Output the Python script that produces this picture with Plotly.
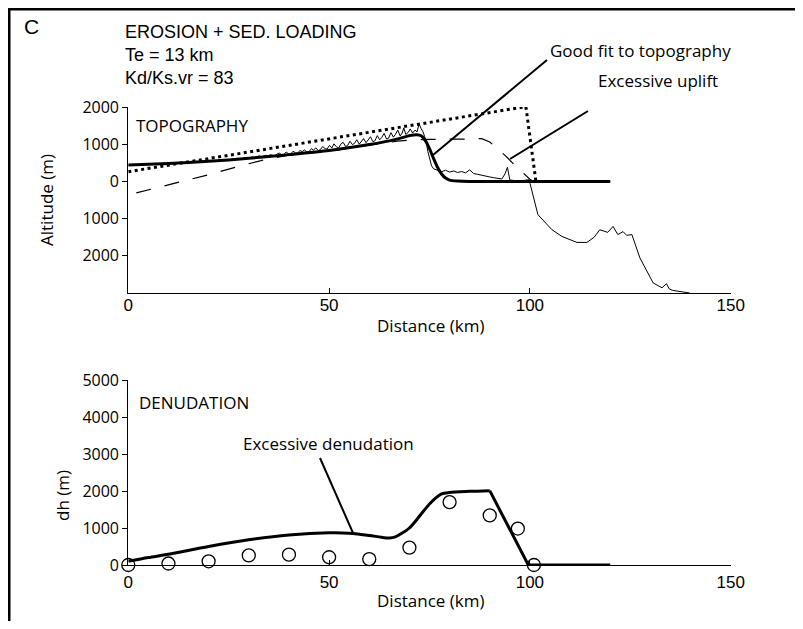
import plotly.graph_objects as go

# Page is shown with the browser's 8px body margin, so figure = window - margins
W, H = 795, 613
OFF = 8  # body margin (page px)

# ---------------- data ----------------
# Top panel: topography (km, m)
model_fit_x = [0, 10, 20, 30, 40, 50, 60, 65, 68, 70, 71.8, 73, 74, 75, 76, 77, 78, 79, 80, 82, 85, 120]
model_fit_y = [440, 480, 540, 620, 720, 830, 990, 1090, 1170, 1230, 1255, 1220, 1090, 880, 620, 380, 200, 90, 35, 10, 0, 0]

model_uplift_x = [2, 10, 20, 29, 35, 40, 50, 60, 64, 67, 70, 75, 85, 88, 90, 92, 94, 96, 98, 100, 101, 120]
model_uplift_y = [-310, -90, 180, 450, 610, 705, 815, 975, 1040, 1080, 1110, 1130, 1140, 1150, 1060, 880, 680, 460, 250, 60, 0, 0]

model_flat_x = [0, 99, 101.5]
model_flat_y = [260, 2010, 0]

profile_x = [0, 4, 8, 12, 16, 20, 24.0, 24.6, 25.2, 25.8, 26.3, 26.9, 27.5, 28.0, 28.6, 29.2, 29.7,
             30.3, 30.9, 31.4, 32.0, 32.6, 33.1, 33.7, 34.2, 34.8, 35.4, 35.9, 36.5, 37.1, 37.6,
             38.2, 38.8, 39.3, 39.9, 40.5, 41.0, 41.6, 42.2, 42.7, 43.3, 43.9, 44.4, 45.0, 45.6,
             46.1, 46.7, 47.3, 47.8, 48.4, 49.0, 49.5, 50.1, 50.7, 51.2, 51.8, 52.4, 52.9, 53.5,
             54.1, 54.6, 55.2, 55.8, 56.3, 56.9, 57.5, 58.0, 58.6, 59.2, 59.7, 60.3, 60.9, 61.4,
             62.0, 62.6, 63.1, 63.7, 64.3, 64.8, 65.4, 66.0, 66.5, 67.1, 67.7, 68.2, 68.6, 69.1,
             69.7, 70.2, 70.8, 71.4, 71.9, 72.4, 72.9, 73.4, 73.8, 74.2, 74.6, 75.0, 75.5, 76,
             77, 78, 79, 80, 81, 82, 83, 84, 85, 86, 87, 88, 89, 90, 91, 92, 93, 93.8, 94.4, 95,
             96, 98, 99.8, 102, 105.5, 108, 111.7, 114.2, 116, 117.4, 119.4, 120.7, 121.9, 123.2,
             124.1, 125.4, 127.4, 130.7, 132.9, 134, 134.7, 135.6, 137, 139.8]
profile_y = [430, 450, 470, 490, 515, 540, 570, 585, 575, 600, 590, 595, 620, 600, 610, 640, 625,
             630, 660, 640, 655, 690, 660, 675, 700, 680, 720, 700, 690, 740, 760, 715, 730, 790,
             740, 745, 810, 770, 760, 830, 800, 850, 790, 800, 880, 840, 900, 830, 850, 940, 880,
             870, 970, 900, 1010, 930, 900, 1000, 1050, 940, 960, 1080, 990, 1020, 1120, 1000,
             1060, 1150, 1040, 1100, 1200, 1070, 1090, 1230, 1120, 1180, 1290, 1140, 1160, 1310,
             1190, 1260, 1380, 1220, 1300, 1440, 1260, 1320, 1410, 1300, 1380, 1330, 1550, 1420,
             1330, 1200, 1050, 800, 600, 420, 340, 290, 260, 300, 250, 280, 240, 265, 230, 310,
             210, 190, 160, 140, 120, 100, 80, 65, 200, 380, 40, 25, 20, 45, -895, -1300, -1480,
             -1640, -1640, -1500, -1300, -1370, -1210, -1430, -1350, -1450, -1430, -2060, -2730,
             -2860, -2750, -2890, -2930, -2960, -3000]

# Bottom panel: denudation
denud_smooth_x = [0, 5, 10, 20, 30, 40, 50, 55, 60, 63, 65, 66.5, 68, 70, 72, 75, 78, 80, 85, 90]
denud_smooth_y = [100, 200, 290, 500, 680, 810, 870, 860, 800, 750, 730, 760, 850, 1000, 1250, 1650, 1920, 1960, 1990, 2010]
denud_tail_x = [90, 99.6, 120]
denud_tail_y = [2010, 0, 0]

denud_obs_x = [0, 10, 20, 30, 40, 50, 60, 70, 80, 90, 97, 101]
denud_obs_y = [0, 40, 100, 260, 280, 210, 160, 470, 1700, 1340, 985, 0]

top_yticks = [2000, 1000, 0, -1000, -2000]
top_yticklabels = ["2000", "1000", "0", "1000", "2000"]
bot_yticks = [0, 1000, 2000, 3000, 4000, 5000]
xticks = [0, 50, 100, 150]

# ---------------- helpers (page px -> paper) ----------------
def px(x):
    return (x - OFF) / W

def py(y):
    return 1 - (y - OFF) / H

XD = [px(128.3), px(730.7)]
TOP_YD = [py(293), py(107)]
BOT_YD = [py(565), py(380)]

fig = go.Figure()

fig.add_trace(go.Scatter(x=model_flat_x, y=model_flat_y, mode="lines",
                         line=dict(color="black", width=3, dash="3px,3.5px"),
                         xaxis="x", yaxis="y", hoverinfo="skip"))
fig.add_trace(go.Scatter(x=model_uplift_x, y=model_uplift_y, mode="lines",
                         line=dict(color="black", width=1.2, dash="15px,14px"),
                         xaxis="x", yaxis="y", hoverinfo="skip"))
fig.add_trace(go.Scatter(x=profile_x, y=profile_y, mode="lines",
                         line=dict(color="black", width=1),
                         xaxis="x", yaxis="y", hoverinfo="skip"))
fig.add_trace(go.Scatter(x=model_fit_x, y=model_fit_y, mode="lines", line_shape="spline",
                         line=dict(color="black", width=3, smoothing=0.6),
                         xaxis="x", yaxis="y", hoverinfo="skip"))

fig.add_trace(go.Scatter(x=denud_smooth_x, y=denud_smooth_y, mode="lines", line_shape="spline",
                         line=dict(color="black", width=3, smoothing=0.8),
                         xaxis="x2", yaxis="y2", hoverinfo="skip", cliponaxis=False))
fig.add_trace(go.Scatter(x=denud_tail_x, y=denud_tail_y, mode="lines",
                         line=dict(color="black", width=3),
                         xaxis="x2", yaxis="y2", hoverinfo="skip", cliponaxis=False))
fig.add_trace(go.Scatter(x=denud_obs_x, y=denud_obs_y, mode="markers",
                         marker=dict(symbol="circle-open", size=13, color="black",
                                     line=dict(width=1.3, color="black")),
                         xaxis="x2", yaxis="y2", hoverinfo="skip", cliponaxis=False))

num_font = dict(family="Liberation Sans, Arial", size=17, color="black")
ytick_font = dict(family="Open Sans", size=16, color="black")

common_x = dict(range=[0, 150], tickvals=xticks, ticks="inside", ticklen=5, tickwidth=1.2,
                tickcolor="black", showline=True, linecolor="black", linewidth=1.2,
                showgrid=False, zeroline=False, tickfont=num_font, fixedrange=True,
                automargin=False)
common_y = dict(ticks="outside", ticklen=5, tickwidth=1.2, tickcolor="black", showline=True,
                linecolor="black", linewidth=1.2, showgrid=False, zeroline=False,
                tickfont=ytick_font, fixedrange=True, automargin=False)

fig.update_layout(
    width=W, height=H,
    margin=dict(l=0, r=0, t=0, b=0),
    paper_bgcolor="white", plot_bgcolor="white",
    showlegend=False,
    xaxis=dict(domain=XD, anchor="y", ticklabelstandoff=-4, **common_x),
    yaxis=dict(domain=TOP_YD, anchor="x", range=[-3000, 2000], tickvals=top_yticks,
               ticktext=top_yticklabels, **common_y),
    xaxis2=dict(domain=XD, anchor="y2", ticklabelstandoff=1, **common_x),
    yaxis2=dict(domain=BOT_YD, anchor="x2", range=[0, 5000], tickvals=bot_yticks, **common_y),
)

arial = "Liberation Sans, Arial"
myriad = "Open Sans"

def label(text, x, y, size=17, family=myriad, xanchor="left", angle=0):
    fig.add_annotation(text=text, x=px(x), y=py(y), xref="paper", yref="paper",
                       showarrow=False, xanchor=xanchor, yanchor="middle",
                       font=dict(family=family, size=size, color="black"), textangle=angle)

label("C", 22, 27, size=21, family=arial)
label("EROSION + SED. LOADING", 123, 32, size=18, family=arial)
label("Te = 13 km", 123, 55, size=18, family=arial)
label("Kd/Ks.vr = 83", 123, 78, size=18, family=arial)
label("TOPOGRAPHY", 134, 125)
label("Good fit to topography", 548, 50)
label("Excessive uplift", 596, 80)
label("DENUDATION", 137, 402)
label("Excessive denudation", 241, 443)
label("Altitude (m)", 47, 200, xanchor="center", angle=-90)
label("dh (m)", 62, 496, xanchor="center", angle=-90)
label("Distance (km)", 430, 325, xanchor="center")
label("Distance (km)", 430, 600, xanchor="center")

def leader(x0, y0, x1, y1):
    fig.add_shape(type="line", xref="paper", yref="paper",
                  x0=px(x0), y0=py(y0), x1=px(x1), y1=py(y1),
                  line=dict(color="black", width=2))

leader(547, 60, 433, 155)
leader(588, 111, 510, 159)
leader(320, 458, 353, 533)

# outer frame (its right and bottom edges lie outside the visible area)
fig.add_shape(type="rect", xref="paper", yref="paper",
              x0=px(9), y0=-0.2, x1=1.2, y1=py(9),
              line=dict(color="black", width=3), layer="above")

fig.write_html("out.html")
